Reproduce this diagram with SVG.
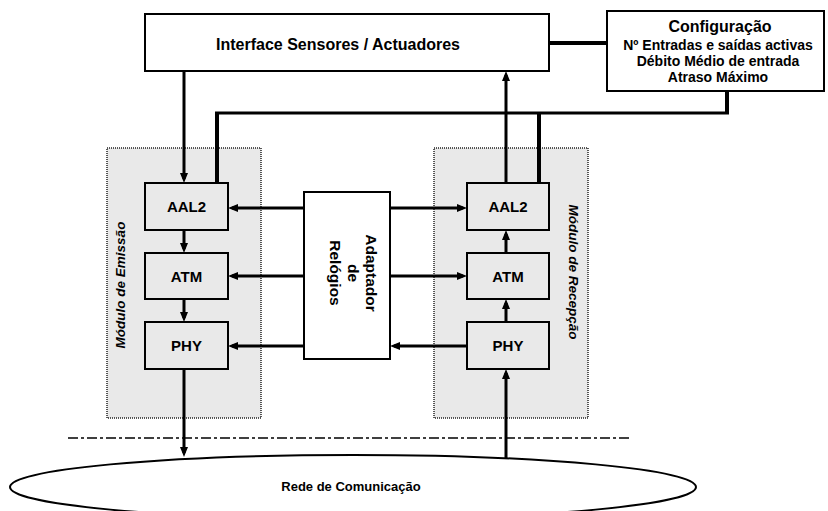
<svg xmlns="http://www.w3.org/2000/svg" width="828" height="511" viewBox="0 0 828 511">
<style>
text{font-family:"Liberation Sans",Arial,sans-serif;font-weight:bold;fill:#000}
.box{fill:#fff;stroke:#000;stroke-width:2}
.mod{fill:#e9e9e9;stroke:#222;stroke-width:1.5;stroke-dasharray:1 1}
.blk{fill:#e9e9e9;stroke:#000;stroke-width:2}
.lbl{font-size:15px;text-anchor:middle}
.c{fill:none;stroke:#000;stroke-width:3}
.t{fill:none;stroke:#000;stroke-width:4}
.a{marker-end:url(#ah)}
</style>
<defs>
<marker id="ah" markerUnits="userSpaceOnUse" markerWidth="10" markerHeight="8" viewBox="0 0 10 8" refX="6" refY="4" orient="auto">
<path d="M0,0 L10,4 L0,8 Z" fill="#000"/>
</marker>
</defs>

<g id="interface">
<rect class="box" x="145" y="14" width="404" height="57"/>
<text x="338" y="50" font-size="16" text-anchor="middle">Interface Sensores / Actuadores</text>
</g>

<g id="configuracao">
<rect class="box" x="607" y="11" width="217" height="80"/>
<text x="720" y="32" font-size="16" text-anchor="middle">Configuração</text>
<text x="718" y="50" font-size="14" text-anchor="middle">Nº Entradas e saídas activas</text>
<text x="718" y="66" font-size="14" text-anchor="middle">Débito Médio de entrada</text>
<text x="718" y="82" font-size="14" text-anchor="middle">Atraso Máximo</text>
</g>

<g id="modulo-emissao">
<rect class="mod" x="107" y="148" width="154" height="270"/>
<text transform="translate(125,285) rotate(-90)" font-size="13.5" font-style="italic" text-anchor="middle">Módulo de Emissão</text>
</g>

<g id="modulo-recepcao">
<rect class="mod" x="434" y="148" width="154" height="270"/>
<text transform="translate(569,272) rotate(90)" font-size="13.5" font-style="italic" text-anchor="middle">Módulo de Recepção</text>
</g>

<g id="aal2-emissao">
<rect class="blk" x="145" y="183" width="83" height="47"/>
<text class="lbl" x="186.5" y="212">AAL2</text>
</g>
<g id="atm-emissao">
<rect class="blk" x="145" y="253" width="83" height="46"/>
<text class="lbl" x="186.5" y="282">ATM</text>
</g>
<g id="phy-emissao">
<rect class="blk" x="145" y="322" width="83" height="47"/>
<text class="lbl" x="186.5" y="351">PHY</text>
</g>

<g id="aal2-recepcao">
<rect class="blk" x="467" y="183" width="82" height="47"/>
<text class="lbl" x="508" y="212">AAL2</text>
</g>
<g id="atm-recepcao">
<rect class="blk" x="467" y="253" width="82" height="46"/>
<text class="lbl" x="508" y="282">ATM</text>
</g>
<g id="phy-recepcao">
<rect class="blk" x="467" y="322" width="82" height="47"/>
<text class="lbl" x="508" y="351">PHY</text>
</g>

<g id="adaptador">
<rect class="box" x="304" y="192" width="86" height="167"/>
<text transform="translate(366,273) rotate(90)" font-size="15.5" text-anchor="middle">Adaptador</text>
<text transform="translate(348,273) rotate(90)" font-size="15.5" text-anchor="middle">de</text>
<text transform="translate(330,273) rotate(90)" font-size="15.5" text-anchor="middle">Relógios</text>
</g>

<g id="rede">
<ellipse cx="353" cy="487" rx="343" ry="32" fill="#fff" stroke="#000" stroke-width="2"/>
<text x="351" y="491" font-size="13" text-anchor="middle">Rede de Comunicação</text>
</g>

<g id="connectors">
<path class="t" d="M549,43 H607"/>
<path class="c" d="M215,113 H729"/>
<path class="t" d="M727,91 V113"/>
<path class="t" d="M217,113 V183"/>
<path class="t" d="M539,113 V183"/>
<path class="c a" d="M184,71 V179"/>
<path class="c a" d="M506,183 V75"/>
<path class="c a" d="M184,230 V249"/>
<path class="c a" d="M184,299 V318"/>
<path class="c a" d="M184,369 V453"/>
<path class="c a" d="M506,458 V373"/>
<path class="c a" d="M506,322 V303"/>
<path class="c a" d="M506,253 V234"/>
<path class="c a" d="M304,208 H232"/>
<path class="c a" d="M304,276 H232"/>
<path class="c a" d="M304,346 H232"/>
<path class="c a" d="M390,208 H463"/>
<path class="c a" d="M390,276 H463"/>
<path class="c a" d="M467,346 H394"/>
<path d="M68,438 H630" fill="none" stroke="#000" stroke-width="1.5" stroke-dasharray="10 3 3 3"/>
</g>
</svg>
